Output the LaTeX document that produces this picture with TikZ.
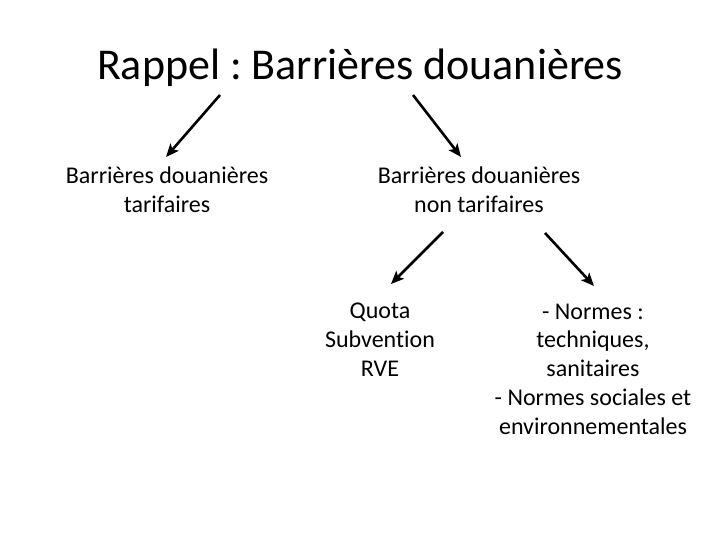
\documentclass[tikz,border=0pt]{standalone}
\usepackage{fontspec}
\setmainfont[Ligatures=NoCommon]{Carlito}
\usetikzlibrary{arrows.meta}
\begin{document}
\frenchspacing
\begin{tikzpicture}[x=1pt,y=-1pt,
  txt/.style={align=center,inner sep=0pt,font=\fontsize{24}{28.8}\selectfont},
  arr/.style={line width=2.6pt,-{Stealth[length=13pt,width=11pt,inset=3pt]}}]
\useasboundingbox[fill=white] (0,0) rectangle (720,540);
\node[inner sep=0pt,font=\fontsize{44}{50}\selectfont] (title) at (360,68) {Rappel : Barrières douanières};
\node[txt] (tar) at (167,190) {Barrières douanières\\tarifaires};
\node[txt] (ntar) at (479,190) {Barrières douanières\\non tarifaires};
\node[txt] (quota) at (380,340) {Quota\\Subvention\\RVE};
\node[txt] (normes) at (593,369) {- Normes :\\techniques,\\sanitaires\\- Normes sociales et\\environnementales};
\coordinate (a1s) at (220,95);
\coordinate (a1e) at (166,157);
\coordinate (a2s) at (413,95);
\coordinate (a2e) at (461,157);
\coordinate (a3s) at (443,232);
\coordinate (a3e) at (391,284);
\coordinate (a4s) at (545,233);
\coordinate (a4e) at (594,286);
\draw[arr] (a1s) -- (a1e);
\draw[arr] (a2s) -- (a2e);
\draw[arr] (a3s) -- (a3e);
\draw[arr] (a4s) -- (a4e);
\end{tikzpicture}
\end{document}
